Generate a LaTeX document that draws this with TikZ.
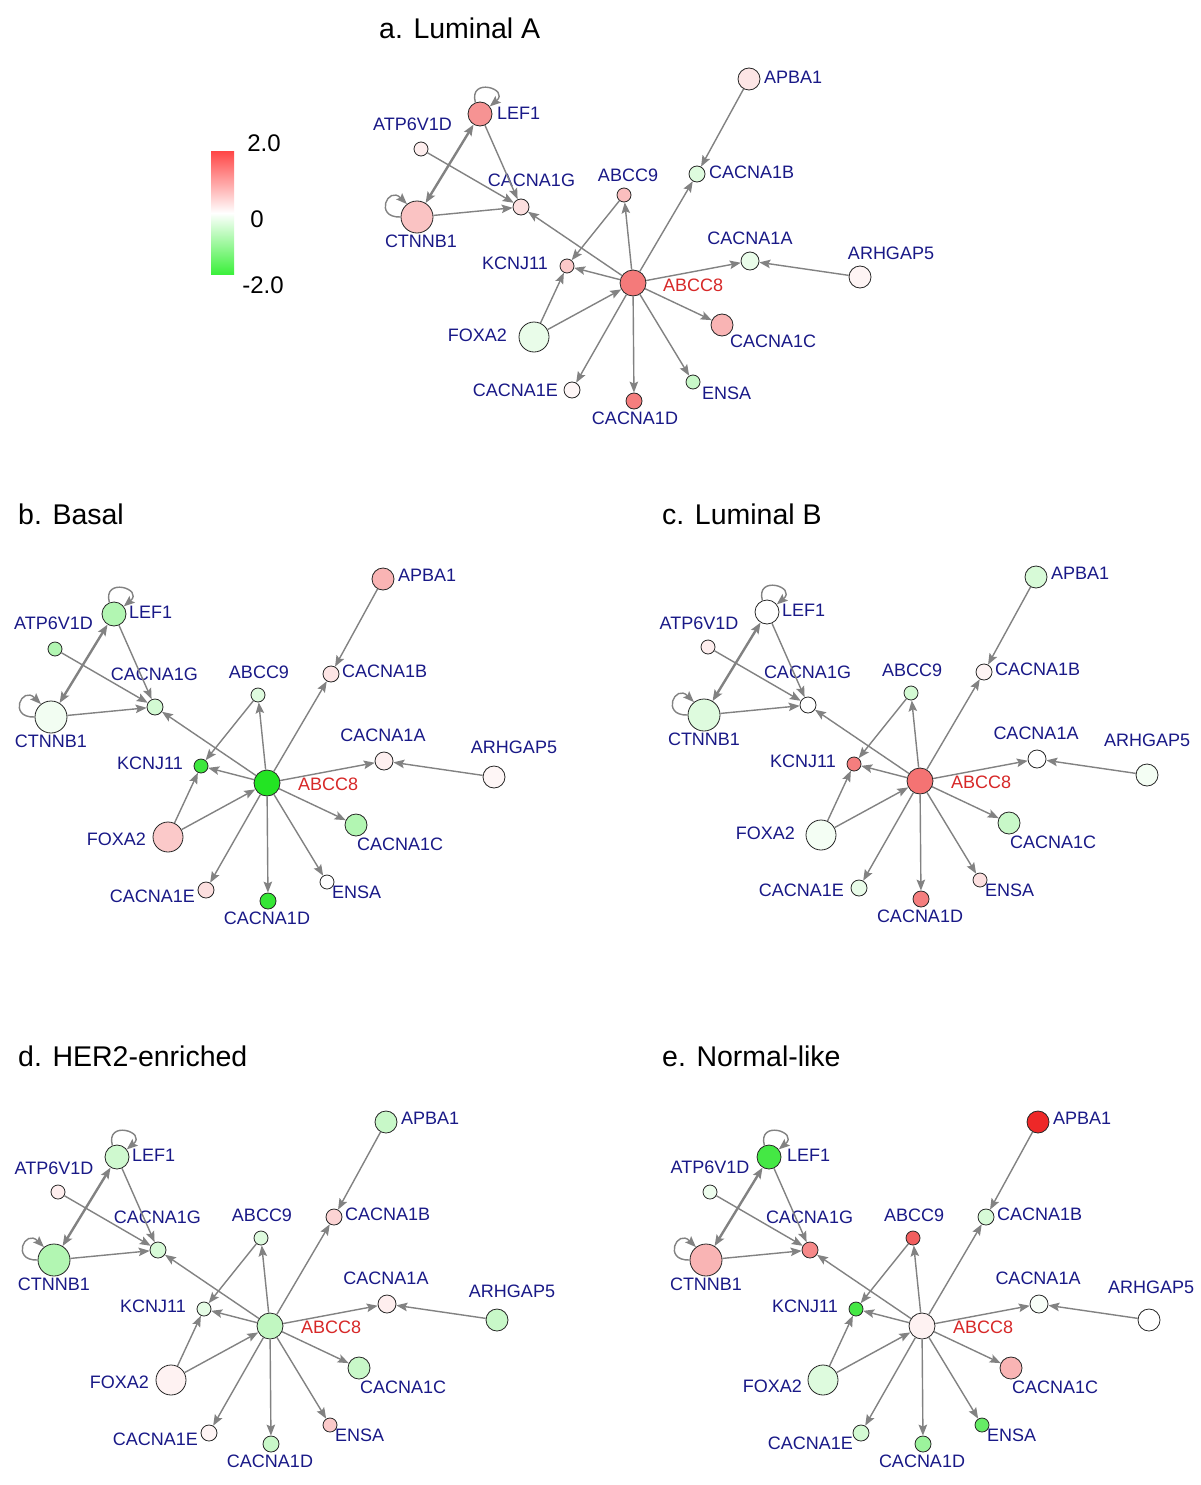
\documentclass[tikz,border=0pt]{standalone}
\usepackage{fontspec}
\setmainfont{Liberation Sans}
\usetikzlibrary{arrows.meta}
\definecolor{rd}{RGB}{238,40,40}
\definecolor{gn}{RGB}{35,228,35}
\definecolor{navy}{RGB}{25,25,135}
\definecolor{edgegray}{RGB}{130,130,130}
\definecolor{lbred}{RGB}{215,40,40}
\definecolor{legred}{RGB}{255,70,70}
\definecolor{leggreen}{RGB}{60,240,60}

\pgfkeys{/cols/.is family, /cols/.unknown/.code={\colorlet{c\pgfkeyscurrentname}{#1}}}
\newcommand\setcols[1]{\pgfkeys{/cols/.cd,#1}}
% label position of gene #1 relative to the ABCC8 centre
\newcommand\lp[3]{\tikzset{p#1/.style={at={(#2,#3)}}}}
\newcommand\deflbl{%
  \lp{LEF1}{-138}{-169}\lp{ATP6V1D}{-216}{-156}\lp{CTNNB1}{-216}{-40}%
  \lp{CACNA1G}{-112.5}{-107}\lp{ABCC9}{-8}{-109}\lp{KCNJ11}{-84}{-18}%
  \lp{ABCC8}{31}{3}\lp{FOXA2}{-121}{58}\lp{CACNA1E}{-72}{115}%
  \lp{CACNA1D}{0}{137}\lp{ENSA}{65}{111}\lp{CACNA1C}{90}{63}%
  \lp{CACNA1A}{116}{-46}\lp{APBA1}{131}{-206}\lp{CACNA1B}{75}{-110}%
  \lp{ARHGAP5}{240}{-34}}

\tikzset{
  gnode/.style={circle, draw=black!85, line width=0.8pt, inner sep=0pt},
  lbl/.style={font=\fontsize{18}{20}\selectfont, text=navy, inner sep=0pt, yshift=-1.7pt},
  ttl/.style={font=\fontsize{28.5}{30}\selectfont, text=black, inner sep=0pt, anchor=mid west, yshift=-2.5pt},
  leg/.style={font=\fontsize{24}{26}\selectfont, text=black, inner sep=0pt, yshift=-2.5pt},
  lnk/.style={draw=edgegray, line width=1.4pt, -{Stealth[length=11pt,width=8.5pt,inset=2pt]}},
  dlnk/.style={draw=edgegray, line width=2.4pt, {Stealth[length=11pt,width=8.5pt,inset=2pt]}-{Stealth[length=11pt,width=8.5pt,inset=2pt]}}
}

\newcommand\drawnet[3]{%
\begin{scope}[shift={(#1,#2)}]
  \node[gnode,minimum size=24pt,fill=cLEF1]    (#3LEF1)    at (-153,-169) {};
  \node[gnode,minimum size=14pt,fill=cATP6V1D] (#3ATP6V1D) at (-212,-134) {};
  \node[gnode,minimum size=32pt,fill=cCTNNB1]  (#3CTNNB1)  at (-216,-66) {};
  \node[gnode,minimum size=16pt,fill=cCACNA1G] (#3CACNA1G) at (-112,-76) {};
  \node[gnode,minimum size=14pt,fill=cABCC9]   (#3ABCC9)   at (-9,-88) {};
  \node[gnode,minimum size=14pt,fill=cKCNJ11]  (#3KCNJ11)  at (-66,-17) {};
  \node[gnode,minimum size=26pt,fill=cABCC8]   (#3ABCC8)   at (0,0) {};
  \node[gnode,minimum size=30pt,fill=cFOXA2]   (#3FOXA2)   at (-99,54) {};
  \node[gnode,minimum size=16pt,fill=cCACNA1E] (#3CACNA1E) at (-61,107) {};
  \node[gnode,minimum size=16pt,fill=cCACNA1D] (#3CACNA1D) at (1,118) {};
  \node[gnode,minimum size=14pt,fill=cENSA]    (#3ENSA)    at (60,99) {};
  \node[gnode,minimum size=22pt,fill=cCACNA1C] (#3CACNA1C) at (89,42) {};
  \node[gnode,minimum size=18pt,fill=cCACNA1A] (#3CACNA1A) at (117,-22) {};
  \node[gnode,minimum size=22pt,fill=cARHGAP5] (#3ARHGAP5) at (227,-6) {};
  \node[gnode,minimum size=22pt,fill=cAPBA1]   (#3APBA1)   at (116,-204) {};
  \node[gnode,minimum size=16pt,fill=cCACNA1B] (#3CACNA1B) at (64,-109) {};
  %
  \node[lbl,pLEF1,anchor=mid west]    (#3LEF1l)    {LEF1};
  \node[lbl,pATP6V1D,anchor=mid]      (#3ATP6V1Dl) {ATP6V1D};
  \node[lbl,pCTNNB1,anchor=mid]       (#3CTNNB1l)  {CTNNB1};
  \node[lbl,pCACNA1G,anchor=mid]      (#3CACNA1Gl) {CACNA1G};
  \node[lbl,pABCC9,anchor=mid]        (#3ABCC9l)   {ABCC9};
  \node[lbl,pKCNJ11,anchor=mid east]  (#3KCNJ11l)  {KCNJ11};
  \node[lbl,pABCC8,anchor=mid west,text=lbred] (#3ABCC8l) {ABCC8};
  \node[lbl,pFOXA2,anchor=mid east]   (#3FOXA2l)   {FOXA2};
  \node[lbl,pCACNA1E,anchor=mid east] (#3CACNA1El) {CACNA1E};
  \node[lbl,pCACNA1D,anchor=mid]      (#3CACNA1Dl) {CACNA1D};
  \node[lbl,pENSA,anchor=mid west]    (#3ENSAl)    {ENSA};
  \node[lbl,pCACNA1C,anchor=mid west] (#3CACNA1Cl) {CACNA1C};
  \node[lbl,pCACNA1A,anchor=mid]      (#3CACNA1Al) {CACNA1A};
  \node[lbl,pARHGAP5,anchor=mid]      (#3ARHGAP5l) {ARHGAP5};
  \node[lbl,pAPBA1,anchor=mid west]   (#3APBA1l)   {APBA1};
  \node[lbl,pCACNA1B,anchor=mid west] (#3CACNA1Bl) {CACNA1B};
  %
  \draw[lnk] (#3LEF1.112) .. controls +(105:27pt) and +(40:27pt) .. (#3LEF1.38);
  \draw[lnk] (#3CTNNB1.180) .. controls +(182:27pt) and +(135:27pt) .. (#3CTNNB1.128);
  \draw[dlnk] (#3LEF1) -- (#3CTNNB1);
  \draw[lnk] (#3ATP6V1D) -- (#3CACNA1G);
  \draw[lnk] (#3CTNNB1) -- (#3CACNA1G);
  \draw[lnk] (#3LEF1) -- (#3CACNA1G);
  \draw[lnk] (#3ABCC8) -- (#3CACNA1G);
  \draw[lnk] (#3ABCC9) -- (#3KCNJ11);
  \draw[lnk] (#3ABCC8) -- (#3ABCC9);
  \draw[lnk] (#3ABCC8) -- (#3KCNJ11);
  \draw[lnk] (#3FOXA2) -- (#3KCNJ11);
  \draw[lnk] (#3FOXA2) -- (#3ABCC8);
  \draw[lnk] (#3ABCC8) -- (#3CACNA1B);
  \draw[lnk] (#3APBA1) -- (#3CACNA1B);
  \draw[lnk] (#3ABCC8) -- (#3CACNA1A);
  \draw[lnk] (#3ARHGAP5) -- (#3CACNA1A);
  \draw[lnk] (#3ABCC8) -- (#3CACNA1C);
  \draw[lnk] (#3ABCC8) -- (#3ENSA);
  \draw[lnk] (#3ABCC8) -- (#3CACNA1D);
  \draw[lnk] (#3ABCC8) -- (#3CACNA1E);
\end{scope}}

\begin{document}
\begin{tikzpicture}[x=1pt,y=-1pt]
\useasboundingbox[fill=white] (0,0) rectangle (1200,1485);

% legend
\shade[top color=legred, bottom color=white] (211,151) rectangle (234,213);
\shade[top color=white, bottom color=leggreen] (211,213) rectangle (234,274);
\node[leg,anchor=mid] (leg2) at (264,146) {2.0};
\node[leg,anchor=mid] (leg0) at (257,222) {0};
\node[leg,anchor=mid] (legm2) at (263,288) {-2.0};

% titles
\node[ttl] (ta) at (379,33) {a. Luminal A};
\node[ttl] (tb) at (18,519) {b. Basal};
\node[ttl] (tc) at (662,519) {c. Luminal B};
\node[ttl] (td) at (18,1061) {d. HER2-enriched};
\node[ttl] (te) at (662,1061) {e. Normal-like};

% a. Luminal A
\deflbl
\lp{LEF1}{-136}{-168}\lp{ATP6V1D}{-220.5}{-157}\lp{CTNNB1}{-212}{-40}
\lp{CACNA1G}{-101.5}{-101}\lp{ABCC9}{-5}{-106}\lp{KCNJ11}{-85}{-18}
\lp{ABCC8}{30}{4}\lp{FOXA2}{-126}{54}\lp{CACNA1E}{-75}{109}
\lp{CACNA1D}{2}{137}\lp{ENSA}{69}{112}\lp{CACNA1C}{97}{60}
\lp{CACNA1A}{117}{-43}\lp{APBA1}{131}{-204}\lp{CACNA1B}{76}{-109}
\lp{ARHGAP5}{258}{-28}
\setcols{LEF1=rd!50, ATP6V1D=rd!8, CTNNB1=rd!28, CACNA1G=rd!15, ABCC9=rd!30,
  KCNJ11=rd!25, ABCC8=rd!62, FOXA2=gn!10, CACNA1E=rd!4, CACNA1D=rd!60, ENSA=gn!25,
  CACNA1C=rd!35, CACNA1A=gn!10, ARHGAP5=rd!5, APBA1=rd!12, CACNA1B=gn!15}
\drawnet{633}{283}{a}

% b. Basal
\deflbl
\lp{ATP6V1D}{-213.5}{-158}\lp{ARHGAP5}{247}{-34}
\setcols{LEF1=gn!35, ATP6V1D=gn!35, CTNNB1=gn!6, CACNA1G=gn!20, ABCC9=gn!15,
  KCNJ11=gn!88, ABCC8=gn!100, FOXA2=rd!25, CACNA1E=rd!15, CACNA1D=gn!92, ENSA=white,
  CACNA1C=gn!35, CACNA1A=rd!7, ARHGAP5=rd!4, APBA1=rd!35, CACNA1B=rd!12}
\drawnet{267}{783}{b}

% c. Luminal B
\deflbl
\lp{ATP6V1D}{-221}{-156}\lp{FOXA2}{-125}{54}\lp{CACNA1E}{-76}{111}
\lp{ARHGAP5}{227}{-39}
\setcols{LEF1=white, ATP6V1D=rd!8, CTNNB1=gn!15, CACNA1G=white, ABCC9=gn!20,
  KCNJ11=rd!60, ABCC8=rd!65, FOXA2=gn!5, CACNA1E=gn!10, CACNA1D=rd!60, ENSA=rd!15,
  CACNA1C=gn!25, CACNA1A=white, ARHGAP5=gn!5, APBA1=gn!18, CACNA1B=rd!5}
\drawnet{920}{781}{c}

% d. HER2-enriched
\deflbl
\lp{ARHGAP5}{242}{-33}
\setcols{LEF1=gn!22, ATP6V1D=rd!8, CTNNB1=gn!35, CACNA1G=gn!18, ABCC9=gn!15,
  KCNJ11=gn!12, ABCC8=gn!28, FOXA2=rd!6, CACNA1E=rd!5, CACNA1D=gn!25, ENSA=rd!25,
  CACNA1C=gn!25, CACNA1A=rd!8, ARHGAP5=gn!25, APBA1=gn!25, CACNA1B=rd!20}
\drawnet{270}{1326}{d}

% e. Normal-like
\deflbl
\lp{LEF1}{-135}{-169}\lp{ATP6V1D}{-212}{-157}\lp{FOXA2}{-120}{62}
\lp{CACNA1E}{-69}{119}\lp{ARHGAP5}{229}{-37}
\setcols{LEF1=gn!85, ATP6V1D=gn!8, CTNNB1=rd!35, CACNA1G=rd!55, ABCC9=rd!75,
  KCNJ11=gn!85, ABCC8=rd!6, FOXA2=gn!15, CACNA1E=gn!20, CACNA1D=gn!45, ENSA=gn!70,
  CACNA1C=rd!35, CACNA1A=gn!3, ARHGAP5=white, APBA1=rd!100, CACNA1B=gn!18}
\drawnet{922}{1326}{e}
\end{tikzpicture}
\end{document}
